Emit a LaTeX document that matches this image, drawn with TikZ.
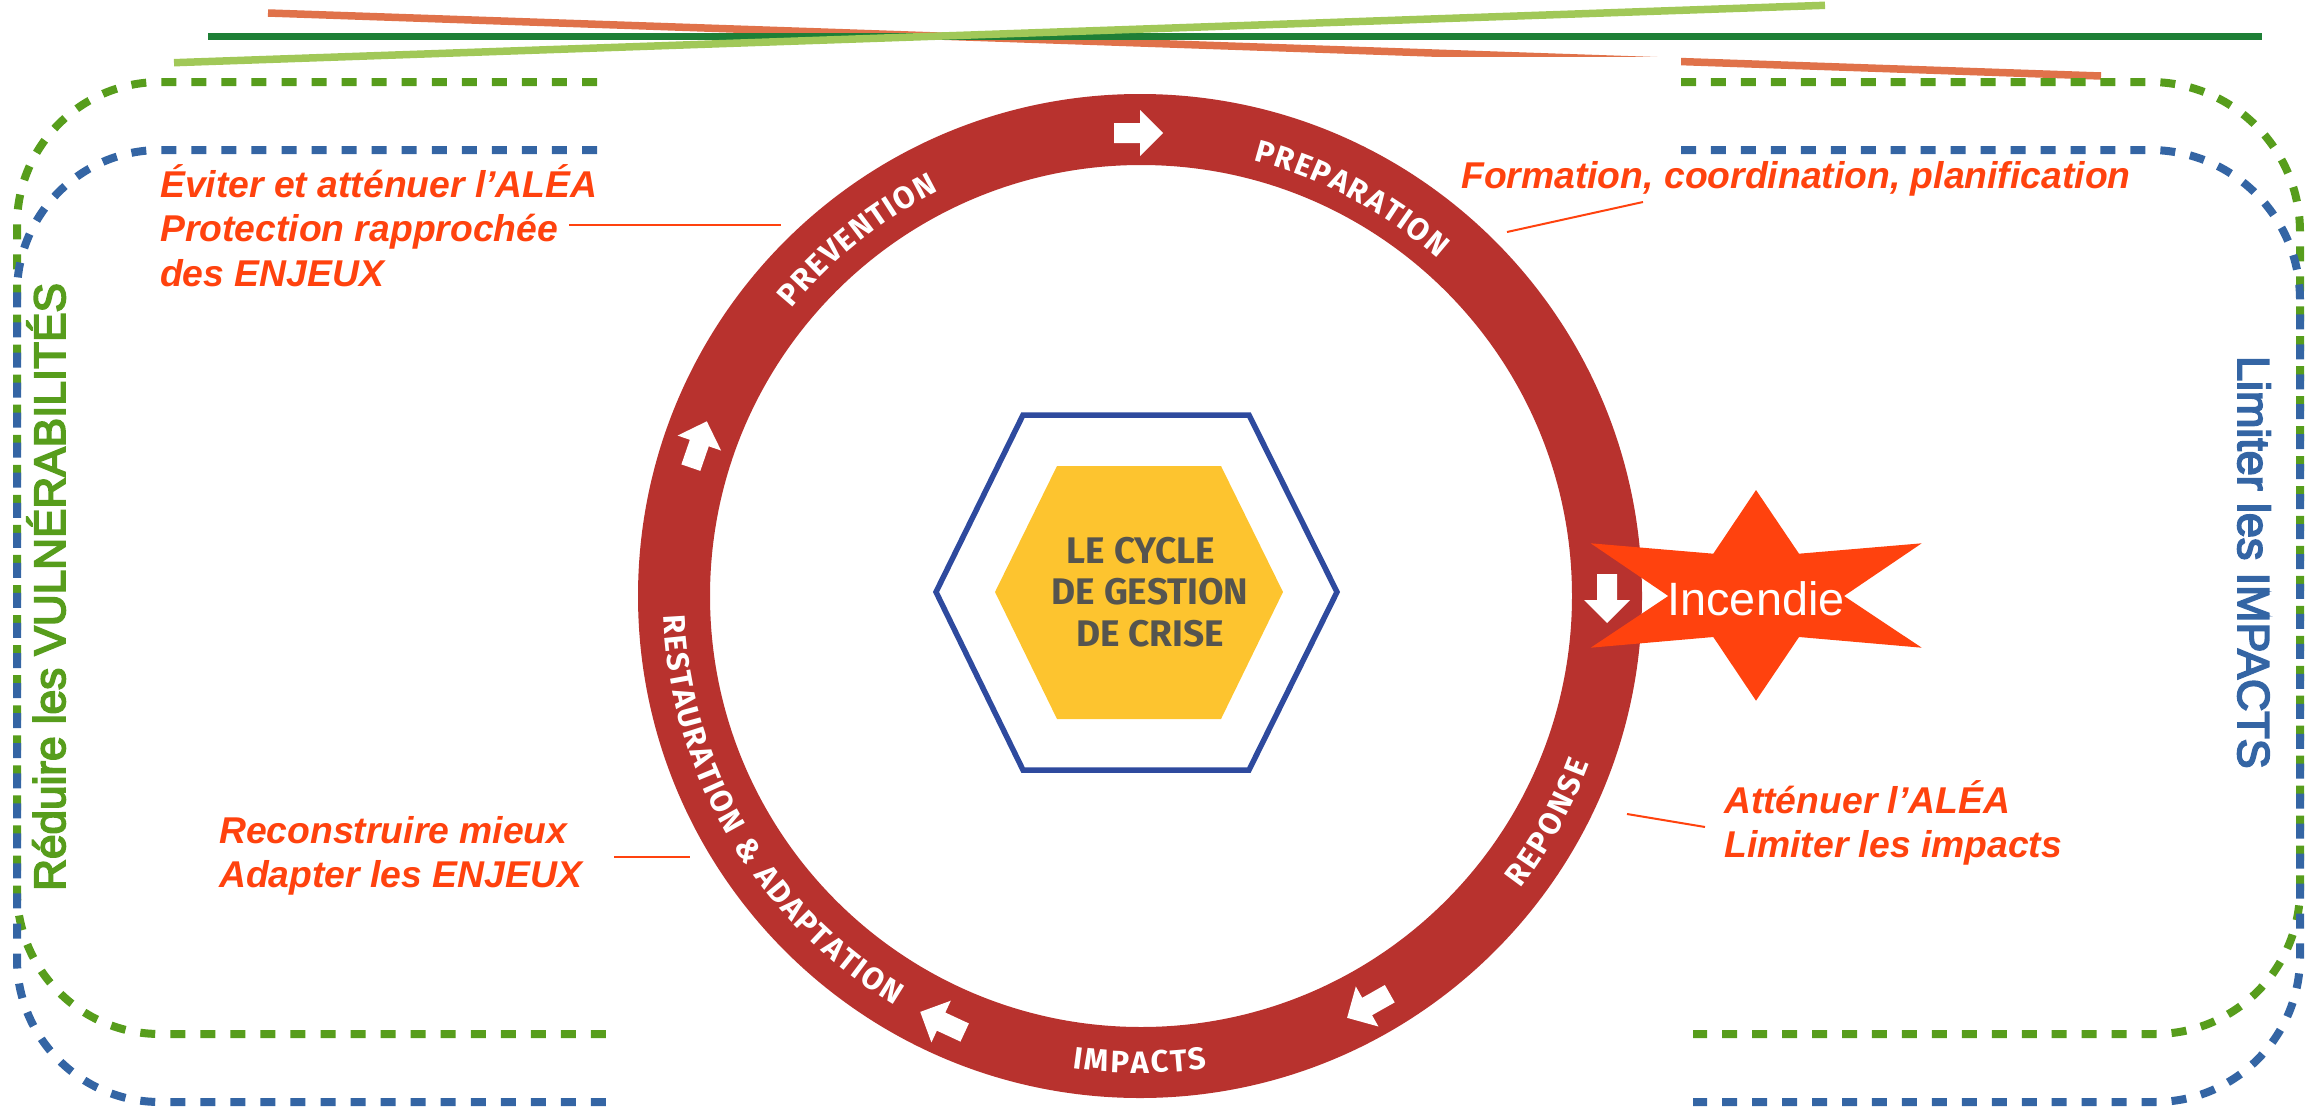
\documentclass[tikz,border=0pt]{standalone}
\usepackage{fontspec}
\setmainfont{Liberation Sans}
\newfontfamily\ringfam{Fira Sans}
\newfontfamily\sidefam[FakeBold=4]{Liberation Sans}
\definecolor{cyclered}{HTML}{B8322E}
\definecolor{hot}{HTML}{FF420E}
\definecolor{dashgreen}{HTML}{579D1C}
\definecolor{dashblue}{HTML}{3465A4}
\definecolor{lineorange}{HTML}{E0724A}
\definecolor{linedark}{HTML}{1E7F36}
\definecolor{linelight}{HTML}{A1C858}
\definecolor{hexblue}{HTML}{2E4A9E}
\definecolor{hexgold}{HTML}{FDC42F}
\definecolor{hexink}{HTML}{55544F}
\newcommand{\ringtxt}{\ringfam\bfseries\fontsize{31}{31}\selectfont}
\newcommand{\blocktxt}[2]{\vtop{\baselineskip=44.6pt\hbox{#1}\hbox{#2}}}
\newlength\wordlen \newlength\letlen \newlength\letpos
% glyph table: Z is the ampersand, G a word gap
\AtBeginDocument{%
  \foreach \k in {A,C,D,E,I,M,N,O,P,R,S,T,U,V}{\expandafter\xdef\csname ringg@\k\endcsname{\k}}%
  \expandafter\gdef\csname ringg@Z\endcsname{\&}%
  \expandafter\gdef\csname ringg@G\endcsname{\rule{9pt}{0pt}}%
  \foreach \k in {A,C,D,E,I,M,N,O,P,R,S,T,U,V,Z,G}{%
    \setbox0=\hbox{\ringtxt\csname ringg@\k\endcsname}%
    \expandafter\xdef\csname ringw@\k\endcsname{\the\wd0}}%
}
% #1 name, #2 centre angle, #3 radius, #4 direction (1 = counter-clockwise, -1 = clockwise), #5 tracking (pt), #6 letters
\newcommand{\arcword}[6]{%
  \global\wordlen=0pt
  \foreach \k in {#6}{\global\advance\wordlen by \csname ringw@\k\endcsname\relax\global\advance\wordlen by #5pt\relax}%
  \global\letpos=-0.5\wordlen
  \foreach \k [count=\i] in {#6}{%
    \letlen=\csname ringw@\k\endcsname\relax
    \pgfmathsetmacro\mida{#2+#4*(\letpos+0.5*\letlen+#5*0.5)/#3*57.29578}%
    \pgfmathsetmacro\rota{\mida+#4*90}%
    \node[ringletter,name=#1-\i,rotate=\rota] at (\mida:#3) {\csname ringg@\k\endcsname};
    \global\advance\letpos by \letlen\global\advance\letpos by #5pt\relax
  }%
}
\tikzset{
  topline/.style={line width=7.5pt},
  dashleft/.style={line width=8pt,dash pattern=on 15pt off 15.05pt},
  dashright/.style={line width=8pt,dash pattern=on 15pt off 14.96pt},
  leader/.style={hot,line width=2pt},
  blocklabel/.style={anchor=base west,inner sep=0pt,text=hot,font=\bfseries\itshape\fontsize{37.3}{44.6}\selectfont},
  sidelabel/.style={anchor=base west,inner sep=0pt},
  cyclearrow/.style={white},
  ringletter/.style={anchor=base,inner sep=0pt,text=white,font=\ringtxt}
}
\begin{document}
\begin{tikzpicture}[x=1pt,y=-1pt]
\useasboundingbox (0,0) rectangle (2313,1106);
% top lines
\draw[topline,lineorange] (268,13) -- (2101,76);
\fill[white] (597,57) rectangle (1681,200);
\draw[topline,linedark] (208,36.7) -- (2262,36.7);
\draw[topline,linelight] (174,62.7) -- (1825,5.3);
% dashed frames
\draw[dashleft,dashgreen] (597,82) -- (160,82) .. controls (81,82) and (17,146) .. (17,225) -- (17,891) .. controls (17,970) and (81,1034) .. (160,1034) -- (606,1034);
\draw[dashright,dashgreen] (1681,82) -- (2150,82) .. controls (2233,82) and (2300,149) .. (2300,232) -- (2300,889) .. controls (2300,969) and (2235,1034) .. (2155,1034) -- (1693,1034);
\draw[dashleft,dashblue] (597,150) -- (160,150) .. controls (81,150) and (17,214) .. (17,293) -- (17,959) .. controls (17,1038) and (81,1102) .. (160,1102) -- (606,1102);
\draw[dashright,dashblue] (1681,150) -- (2150,150) .. controls (2233,150) and (2300,217) .. (2300,300) -- (2300,957) .. controls (2300,1037) and (2235,1102) .. (2155,1102) -- (1693,1102);
% ring
\fill[cyclered,even odd rule] (1140,596) circle[radius=502] (1141,596) circle[radius=431];
% arrows on the ring
\foreach \px/\py/\ang in {1139/133/0,1607/599/90,1368/1006/150.5,942/1022/204.9,699/444/289}{
  \fill[cyclearrow,shift={(\px,\py)},rotate=-\ang] (-25,-10) -- (1,-10) -- (1,-23) -- (24,0) -- (1,23) -- (1,10) -- (-25,10) -- cycle;
}
% ring words
\begin{scope}[shift={(1140,596)},y=1pt]
\arcword{wprev}{128.5}{452}{-1}{1.5}{P,R,E,V,E,N,T,I,O,N}
\arcword{wprep}{62}{450}{-1}{1.5}{P,R,E,P,A,R,A,T,I,O,N}
\arcword{wrepo}{-29}{480}{1}{2.2}{R,E,P,O,N,S,E}
\arcword{wimpa}{-90}{477}{1}{2.1}{I,M,P,A,C,T,S}
\arcword{wrest}{210.7}{477}{1}{1.6}{R,E,S,T,A,U,R,A,T,I,O,N,G,Z,G,A,D,A,P,T,A,T,I,O,N}
\end{scope}
% hexagons
\draw[hexblue,line width=5.5pt,line join=miter] (936,592) -- (1023,415) -- (1249,415) -- (1337,592) -- (1249,770) -- (1023,770) -- cycle;
\fill[hexgold] (995,592) -- (1057,466) -- (1221,466) -- (1283,592) -- (1221,719) -- (1057,719) -- cycle;
\node[name=hub,inner sep=0pt,align=center,text=hexink,font=\ringfam\bfseries\fontsize{37}{41.5}\selectfont] at (1150,592) {LE CYCLE\hspace*{18pt}\\DE GESTION\\DE CRISE};
% star
\fill[hot] (1756,490) -- (1799,553.7) -- (1921.7,543.3) -- (1844,596) -- (1921.7,647.7) -- (1799,637) -- (1756,700.7) -- (1713.3,637) -- (1590.7,647.7) -- (1668.3,596) -- (1590.7,543.3) -- (1713.3,553.7) -- cycle;
\node[name=fire,anchor=base,inner sep=0pt,text=white,font=\fontsize{46.8}{50}\selectfont] at (1756,615) {Incendie};
% text blocks
\node[name=prev,blocklabel] at (160,197) {\vtop{\baselineskip=44.6pt\hbox{Éviter et atténuer l’ALÉA}\hbox{Protection rapprochée}\hbox{des ENJEUX}}};
\node[name=prep,blocklabel] at (1461,188) {Formation, coordination, planification};
\node[name=resp,blocklabel] at (1724,813) {\blocktxt{Atténuer l’ALÉA}{Limiter les impacts}};
\node[name=rest,blocklabel] at (219,843) {\blocktxt{Reconstruire mieux}{Adapter les ENJEUX}};
% leaders
\coordinate (la1) at (569,225); \coordinate (lb1) at (781,225);
\coordinate (la2) at (1643,202); \coordinate (lb2) at (1507,232);
\coordinate (la3) at (1705,827); \coordinate (lb3) at (1627,814);
\coordinate (la4) at (614,857); \coordinate (lb4) at (690,857);
\draw[leader] (la1) -- (lb1);
\draw[leader] (la2) -- (lb2);
\draw[leader] (la3) -- (lb3);
\draw[leader] (la4) -- (lb4);
% side labels
\node[name=vuln,sidelabel,rotate=90,text=dashgreen,font=\sidefam\fontsize{44.1}{50}\selectfont] at (65,891) {Réduire les VULNÉRABILITÉS};
\node[name=limit,sidelabel,rotate=-90,text=dashblue,font=\sidefam\fontsize{44.8}{50}\selectfont] at (2238,356) {Limiter les IMPACTS};
\end{tikzpicture}
\end{document}
